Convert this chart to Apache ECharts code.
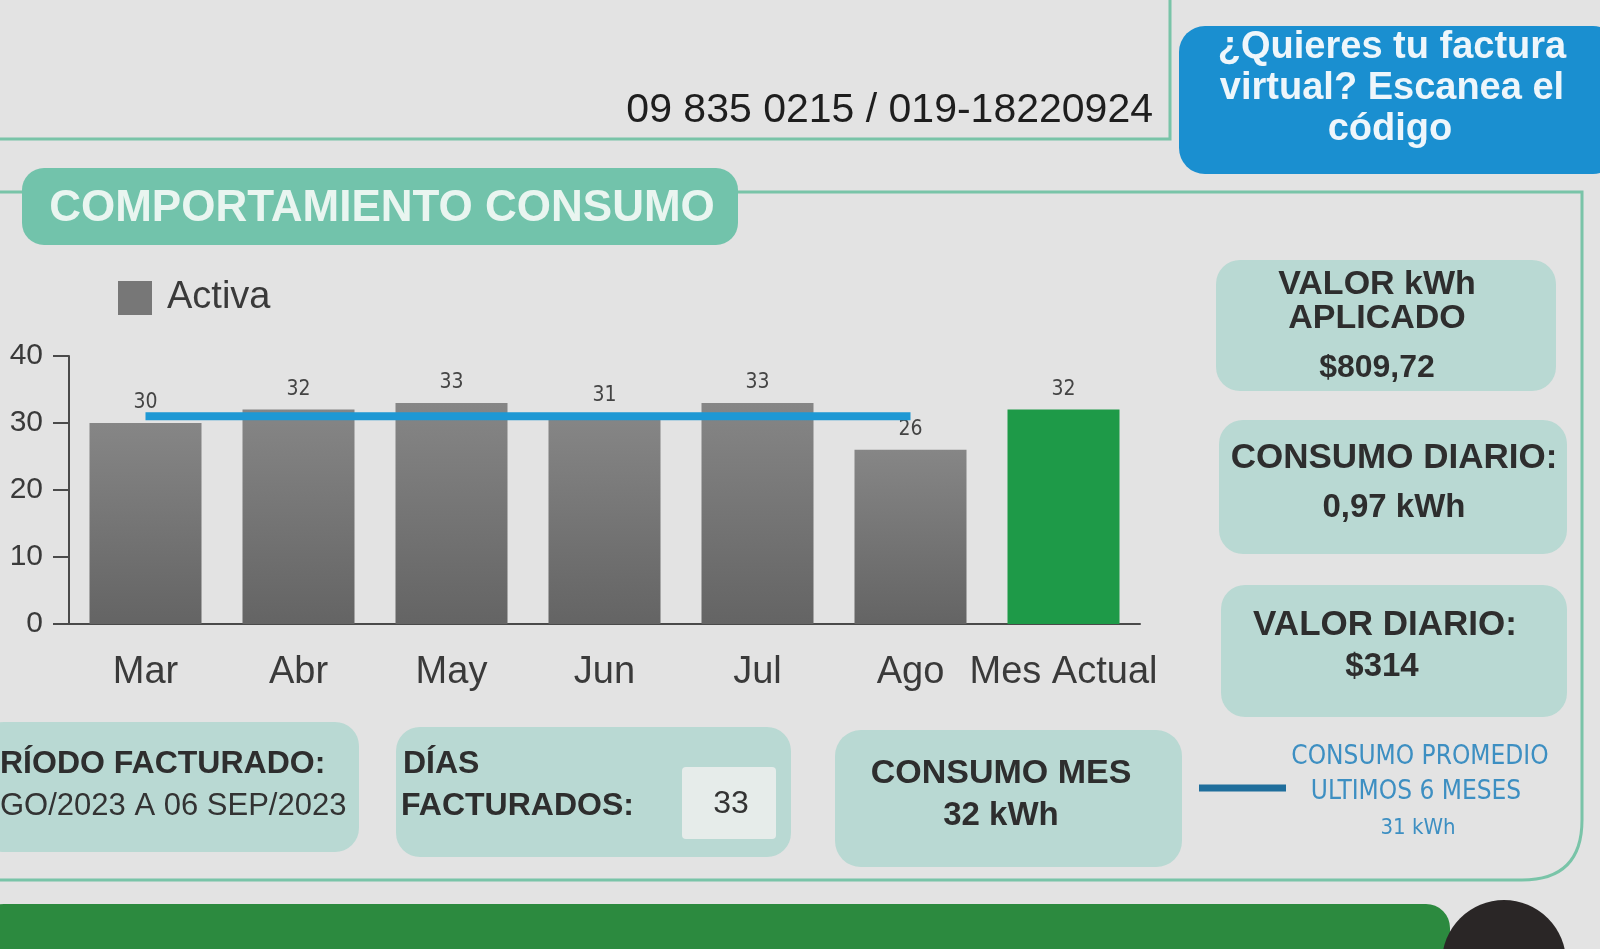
<!DOCTYPE html>
<html>
<head>
<meta charset="utf-8">
<title>Comportamiento consumo</title>
<script src="https://cdn.jsdelivr.net/npm/echarts/dist/echarts.min.js"></script>
<style>
  html, body { margin: 0; padding: 0; background: #e3e3e3; }
  #main { width: 1600px; height: 949px; }
</style>
</head>
<body>
<div id="main"></div>
<script>
// datos del grafico
var meses = ['Mar', 'Abr', 'May', 'Jun', 'Jul', 'Ago', 'Mes Actual'];
var activa = [30, 32, 33, 31, 33, 26, 32];
var promedio = [31, 31, 31, 31, 31, 31, null];
var yTicks = [0, 10, 20, 30, 40];

var FONT = '"Liberation Sans", Arial, sans-serif';
var NARROW = '"Liberation Sans Narrow", "DejaVu Sans Condensed", "Liberation Sans", sans-serif';

// rectangulo redondeado
function box(x, y, w, h, r, fill, z) {
    return {
        type: 'rect', z: z || 1,
        shape: { x: x, y: y, width: w, height: h, r: r },
        style: { fill: fill }
    };
}
// texto
function txt(s, x, y, size, color, weight, align, family) {
    var a = align || 'center';
    return {
        type: 'text', z: 5,
        x: x, y: y,
        style: {
            text: s,
            fill: color,
            font: (weight || 'normal') + ' ' + size + 'px ' + (family || FONT),
            align: a, textAlign: a,
            verticalAlign: 'middle', textVerticalAlign: 'middle'
        }
    };
}

var verde = '#79c4a8';
var cajas = '#b9d9d3';
var grisTxt = '#2e2e2e';
var borde = { stroke: verde, lineWidth: 3, fill: null };

var graficos = [
    // lineas del recuadro
    { type: 'polyline', z: 1, shape: { points: [[0, 139], [1170, 139], [1170, 0]] }, style: borde },
    { type: 'polyline', z: 1, shape: { points: [[0, 192], [1582, 192], [1582, 820]] }, style: borde },
    { type: 'bezierCurve', z: 1, shape: { x1: 1582, y1: 820, cpx1: 1582, cpy1: 880, x2: 1522, y2: 880 }, style: borde },
    { type: 'line', z: 1, shape: { x1: 1522, y1: 880, x2: 0, y2: 880 }, style: borde },
    // telefono
    txt('09 835 0215 / 019-18220924', 1153, 111, 41, '#1e1e1e', 'normal', 'right'),
    // caja azul
    box(1179, 26, 440, 148, 26, '#1a8fd0'),
    txt('¿Quieres tu factura', 1392, 48, 38, '#eef6fb', 'bold'),
    txt('virtual? Escanea el', 1392, 89, 38, '#eef6fb', 'bold'),
    txt('código', 1390, 130, 38, '#eef6fb', 'bold'),
    // titulo
    box(22, 168, 716, 77, 22, '#72c3ab'),
    txt('COMPORTAMIENTO CONSUMO', 382, 209, 44, '#e9f5f0', 'bold'),
    // cajas derecha
    box(1216, 260, 340, 131, 24, cajas),
    txt('VALOR kWh', 1377, 285, 34, grisTxt, 'bold'),
    txt('APLICADO', 1377, 319, 34, grisTxt, 'bold'),
    txt('$809,72', 1377, 368, 32, grisTxt, 'bold'),
    box(1219, 420, 348, 134, 24, cajas),
    txt('CONSUMO DIARIO:', 1394, 458, 35, grisTxt, 'bold'),
    txt('0,97 kWh', 1394, 508, 33, grisTxt, 'bold'),
    box(1221, 585, 346, 132, 24, cajas),
    txt('VALOR DIARIO:', 1385, 625, 35, grisTxt, 'bold'),
    txt('$314', 1382, 667, 33, grisTxt, 'bold'),
    // cajas abajo
    box(-20, 722, 379, 130, 24, cajas),
    txt('RÍODO FACTURADO:', 0, 764, 32, grisTxt, 'bold', 'left'),
    txt('GO/2023 A 06 SEP/2023', 0, 806, 31, '#333', 'normal', 'left'),
    box(396, 727, 395, 130, 24, cajas),
    txt('DÍAS', 403, 764, 32, grisTxt, 'bold', 'left'),
    txt('FACTURADOS:', 401, 806, 32, grisTxt, 'bold', 'left'),
    box(682, 767, 94, 72, 4, '#e6ecea'),
    txt('33', 731, 804, 32, '#333', 'normal'),
    box(835, 730, 347, 137, 26, cajas),
    txt('CONSUMO MES', 1001, 774, 34, grisTxt, 'bold'),
    txt('32 kWh', 1001, 816, 33, grisTxt, 'bold'),
    // leyenda promedio
    { type: 'line', z: 3, shape: { x1: 1199, y1: 788, x2: 1286, y2: 788 },
      style: { stroke: '#1f6e9c', lineWidth: 7 } },
    txt('CONSUMO PROMEDIO', 1420, 757, 26, '#3d8fc2', 'normal', 'center', NARROW),
    txt('ULTIMOS 6 MESES', 1416, 792, 26, '#3d8fc2', 'normal', 'center', NARROW),
    txt('31 kWh', 1418, 828, 22, '#3d8fc2', 'normal', 'center', NARROW),
    // franja verde inferior
    box(-20, 904, 1470, 80, 24, '#2c8a3f'),
    { type: 'circle', z: 2, shape: { cx: 1504, cy: 962, r: 62 }, style: { fill: '#2a2626' } }
];

var chart = echarts.init(document.getElementById('main'));

chart.setOption({
    backgroundColor: '#e3e3e3',
    animation: false,
    legend: {
        data: ['Activa'],
        left: 113, top: 274,
        icon: 'rect',
        itemWidth: 34, itemHeight: 34, itemGap: 10,
        textStyle: { fontFamily: FONT, fontSize: 38, color: '#3a3a3a', padding: [0, 0, 0, 10] }
    },
    grid: { left: 69, right: 460, top: 356, bottom: 325, containLabel: false },
    xAxis: {
        type: 'category',
        data: meses,
        axisLine: { lineStyle: { color: '#4a4a4a', width: 2 } },
        axisTick: { alignWithLabel: true, length: 16, lineStyle: { color: '#4a4a4a', width: 2 } },
        axisLabel: { margin: 30, fontFamily: FONT, fontSize: 38, color: '#3a3a3a', interval: 0 }
    },
    yAxis: {
        type: 'value',
        min: yTicks[0], max: yTicks[yTicks.length - 1], interval: 10,
        splitLine: { show: false },
        axisLine: { show: true, lineStyle: { color: '#4a4a4a', width: 2 } },
        axisTick: { show: true, length: 16, lineStyle: { color: '#4a4a4a', width: 2 } },
        axisLabel: { margin: 26, fontFamily: FONT, fontSize: 30, color: '#3a3a3a' }
    },
    series: [
        {
            name: 'Activa',
            type: 'bar',
            barWidth: 112,
            itemStyle: { color: '#777777' },
            label: {
                show: true, position: 'top', distance: 10,
                fontFamily: NARROW, fontSize: 21, color: '#444'
            },
            data: activa.map(function (v, i) {
                if (i === activa.length - 1) {
                    return { value: v, itemStyle: { color: '#1e9a48' } };
                }
                return {
                    value: v,
                    itemStyle: {
                        color: new echarts.graphic.LinearGradient(0, 0, 0, 1, [
                            { offset: 0, color: '#868686' },
                            { offset: 1, color: '#646464' }
                        ])
                    }
                };
            }),
            z: 2
        },
        {
            name: 'Promedio',
            type: 'line',
            data: promedio,
            symbol: 'none',
            lineStyle: { color: '#1e98d4', width: 8 },
            z: 4
        }
    ],
    graphic: graficos
});
</script>
</body>
</html>
